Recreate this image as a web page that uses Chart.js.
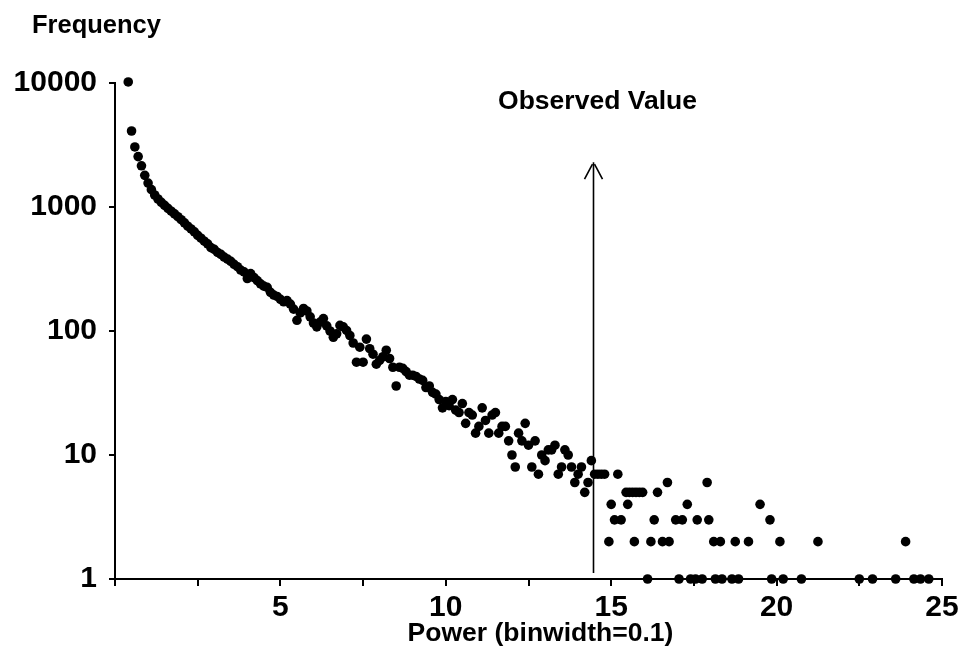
<!DOCTYPE html>
<html><head><meta charset="utf-8">
<script src="https://cdn.jsdelivr.net/npm/chart.js@4"></script>
<style>html,body{margin:0;padding:0;background:#fff}#wrap{width:976px;height:655px}</style>
</head><body><div id="wrap"><canvas id="c" width="976" height="655"></canvas></div>
<script>
// Power bins (binwidth 0.1) with their observed frequencies
const binPower = [0.4,0.5,0.6,0.7,0.8,0.9,1.0,1.1,1.2,1.3,1.4,1.5,1.6,1.7,1.8,1.9,
  2.0,2.1,2.2,2.3,2.4,2.5,2.6,2.7,2.8,2.9,3.0,3.1,3.2,3.3,3.4,3.5,3.6,3.7,3.8,3.9,
  4.0,4.1,4.2,4.3,4.4,4.5,4.6,4.7,4.8,4.9,5.0,5.1,5.2,5.3,5.4,5.5,5.6,5.7,5.8,5.9,
  6.0,6.1,6.2,6.3,6.4,6.5,6.6,6.7,6.8,6.9,7.0,7.1,7.2,7.3,7.4,7.5,7.6,7.7,7.8,7.9,
  8.0,8.1,8.2,8.3,8.4,8.5,8.6,8.7,8.8,8.9,9.0,9.1,9.2,9.3,9.4,9.5,9.6,9.7,9.8,9.9,
  10.0,10.1,10.2,10.3,10.4,10.5,10.6,10.7,10.8,10.9,11.0,11.1,11.2,11.3,11.4,11.5,11.6,11.7,11.8,11.9,
  12.0,12.1,12.2,12.3,12.4,12.5,12.6,12.7,12.8,12.9,13.0,13.1,13.2,13.3,13.4,13.5,13.6,13.7,13.8,13.9,
  14.0,14.1,14.2,14.3,14.4];
const binFrequency = [10200,4100,3050,2550,2150,1800,1560,1380,1250,1160,1090,1030,975,925,880,835,
  790,745,700,665,630,590,560,530,505,470,455,430,415,395,380,365,345,330,310,300,
  265,290,270,255,240,230,225,205,195,190,180,172,176,165,150,122,140,152,145,130,
  116,108,118,126,110,100,89,95,111,108,101,92,80,56,74,56,86,72,65,54,
  58,62,70,60,51,36,51,50,47,44,44,43,41,40,35,36,32,31,28,24,
  27,25,28,23,22,26,18,22,21,15,17,24,19,15,21,22,15,17,17,13,
  10,8,15,13,18,12,8,13,7,10,9,11,11,12,7,8,11,10,8,6,
  7,8,5,6,9];
// Sparse tail (small integer counts)
const tailPower = [14.5,14.6,14.7,14.8,14.93,15.0,15.1,15.2,15.3,15.45,15.5,15.55,15.65,15.7,15.75,15.85,15.95,
  16.1,16.2,16.3,16.4,16.55,16.7,16.75,16.95,17.05,17.15,17.3,17.4,17.55,17.6,17.75,17.9,17.95,
  18.1,18.15,18.3,18.35,18.65,18.75,18.85,19.15,19.5,19.8,19.85,20.1,20.2,20.75,21.25,
  22.5,22.9,23.6,23.9,24.15,24.35,24.6];
const tailFrequency = [7,7,7,7,2,4,3,7,3,5,4,5,5,2,5,5,5,
  1,2,3,5,2,6,2,3,1,3,4,1,1,3,1,6,3,
  2,1,2,1,1,2,1,2,4,3,1,2,1,1,2,
  1,1,1,2,1,1,1];

const xTickValues = [0,2.5,5,7.5,10,12.5,15,17.5,20,22.5,25];
const xTickLabels = ['','','5','','10','','15','','20','','25'];
const yTickValues = [1,10,100,1000,10000];
const yTickLabels = ['1','10','100','1000','10000'];
const xTitle = 'Power (binwidth=0.1)';
const yTitle = 'Frequency';
const observedLabel = 'Observed Value';
const observedValue = 14.45;
const arrowTopFrequency = 2300;

const FONT = '"Liberation Sans", Arial, Helvetica, sans-serif';

const points = [];
binPower.forEach((p, i) => points.push({x: p, y: binFrequency[i]}));
tailPower.forEach((p, i) => points.push({x: p, y: tailFrequency[i]}));

const annotate = {
  id: 'annotate',
  afterDatasetsDraw(chart) {
    const {ctx, scales: {x, y}, chartArea} = chart;
    const px = Math.round(x.getPixelForValue(observedValue)) + 0.5;
    const top = y.getPixelForValue(arrowTopFrequency);
    const bottom = chartArea.bottom - 6;
    ctx.save();
    ctx.strokeStyle = '#000';
    ctx.lineWidth = 1.6;
    ctx.beginPath(); ctx.moveTo(px, bottom); ctx.lineTo(px, top); ctx.stroke();
    ctx.beginPath(); ctx.moveTo(px - 9, top + 17); ctx.lineTo(px - 1, top + 2); ctx.stroke();
    ctx.beginPath(); ctx.moveTo(px + 9, top + 17); ctx.lineTo(px + 1, top + 2); ctx.stroke();
    ctx.fillStyle = '#000';
    ctx.textBaseline = 'middle';
    ctx.textAlign = 'center';
    ctx.font = 'bold 26.5px ' + FONT;
    ctx.fillText(observedLabel, px + 4, top - 60);
    ctx.fillText(xTitle, (chartArea.left + chartArea.right) / 2 + 12, chartArea.bottom + 55);
    ctx.textAlign = 'left';
    ctx.font = 'bold 25.5px ' + FONT;
    ctx.fillText(yTitle, 32, 26);
    ctx.restore();
  }
};

new Chart(document.getElementById('c'), {
  type: 'scatter',
  data: {datasets: [{
    data: points,
    pointRadius: 4.8,
    pointBackgroundColor: '#000',
    pointBorderWidth: 0,
    pointBorderColor: '#000',
    showLine: false,
    clip: false
  }]},
  options: {
    responsive: false,
    animation: false,
    devicePixelRatio: 1,
    layout: {padding: {top: 83, right: 34, bottom: 0, left: 0}},
    plugins: {legend: {display: false}, tooltip: {enabled: false}},
    scales: {
      x: {
        type: 'linear', min: 0, max: 25,
        afterBuildTicks: s => { s.ticks = xTickValues.map(v => ({value: v})); },
        afterFit: s => { s.height = 76; },
        ticks: {autoSkip: false, maxRotation: 0, padding: 4, color: '#000',
          font: {family: FONT, size: 30, weight: 'bold'},
          callback: (v, i) => xTickLabels[i]},
        grid: {drawOnChartArea: false, drawTicks: true, tickLength: 7, color: '#000', lineWidth: 2},
        border: {display: true, color: '#000', width: 2}
      },
      y: {
        type: 'logarithmic', min: 1, max: 10000,
        afterBuildTicks: s => { s.ticks = yTickValues.map(v => ({value: v})); },
        afterFit: s => { s.width = 115; },
        ticks: {autoSkip: false, padding: 12, color: '#000',
          font: {family: FONT, size: 30, weight: 'bold'},
          callback: (v, i) => yTickLabels[i]},
        grid: {drawOnChartArea: false, drawTicks: true, tickLength: 6, color: '#000', lineWidth: 2},
        border: {display: true, color: '#000', width: 2}
      }
    }
  },
  plugins: [annotate]
});
</script>
</body></html>
